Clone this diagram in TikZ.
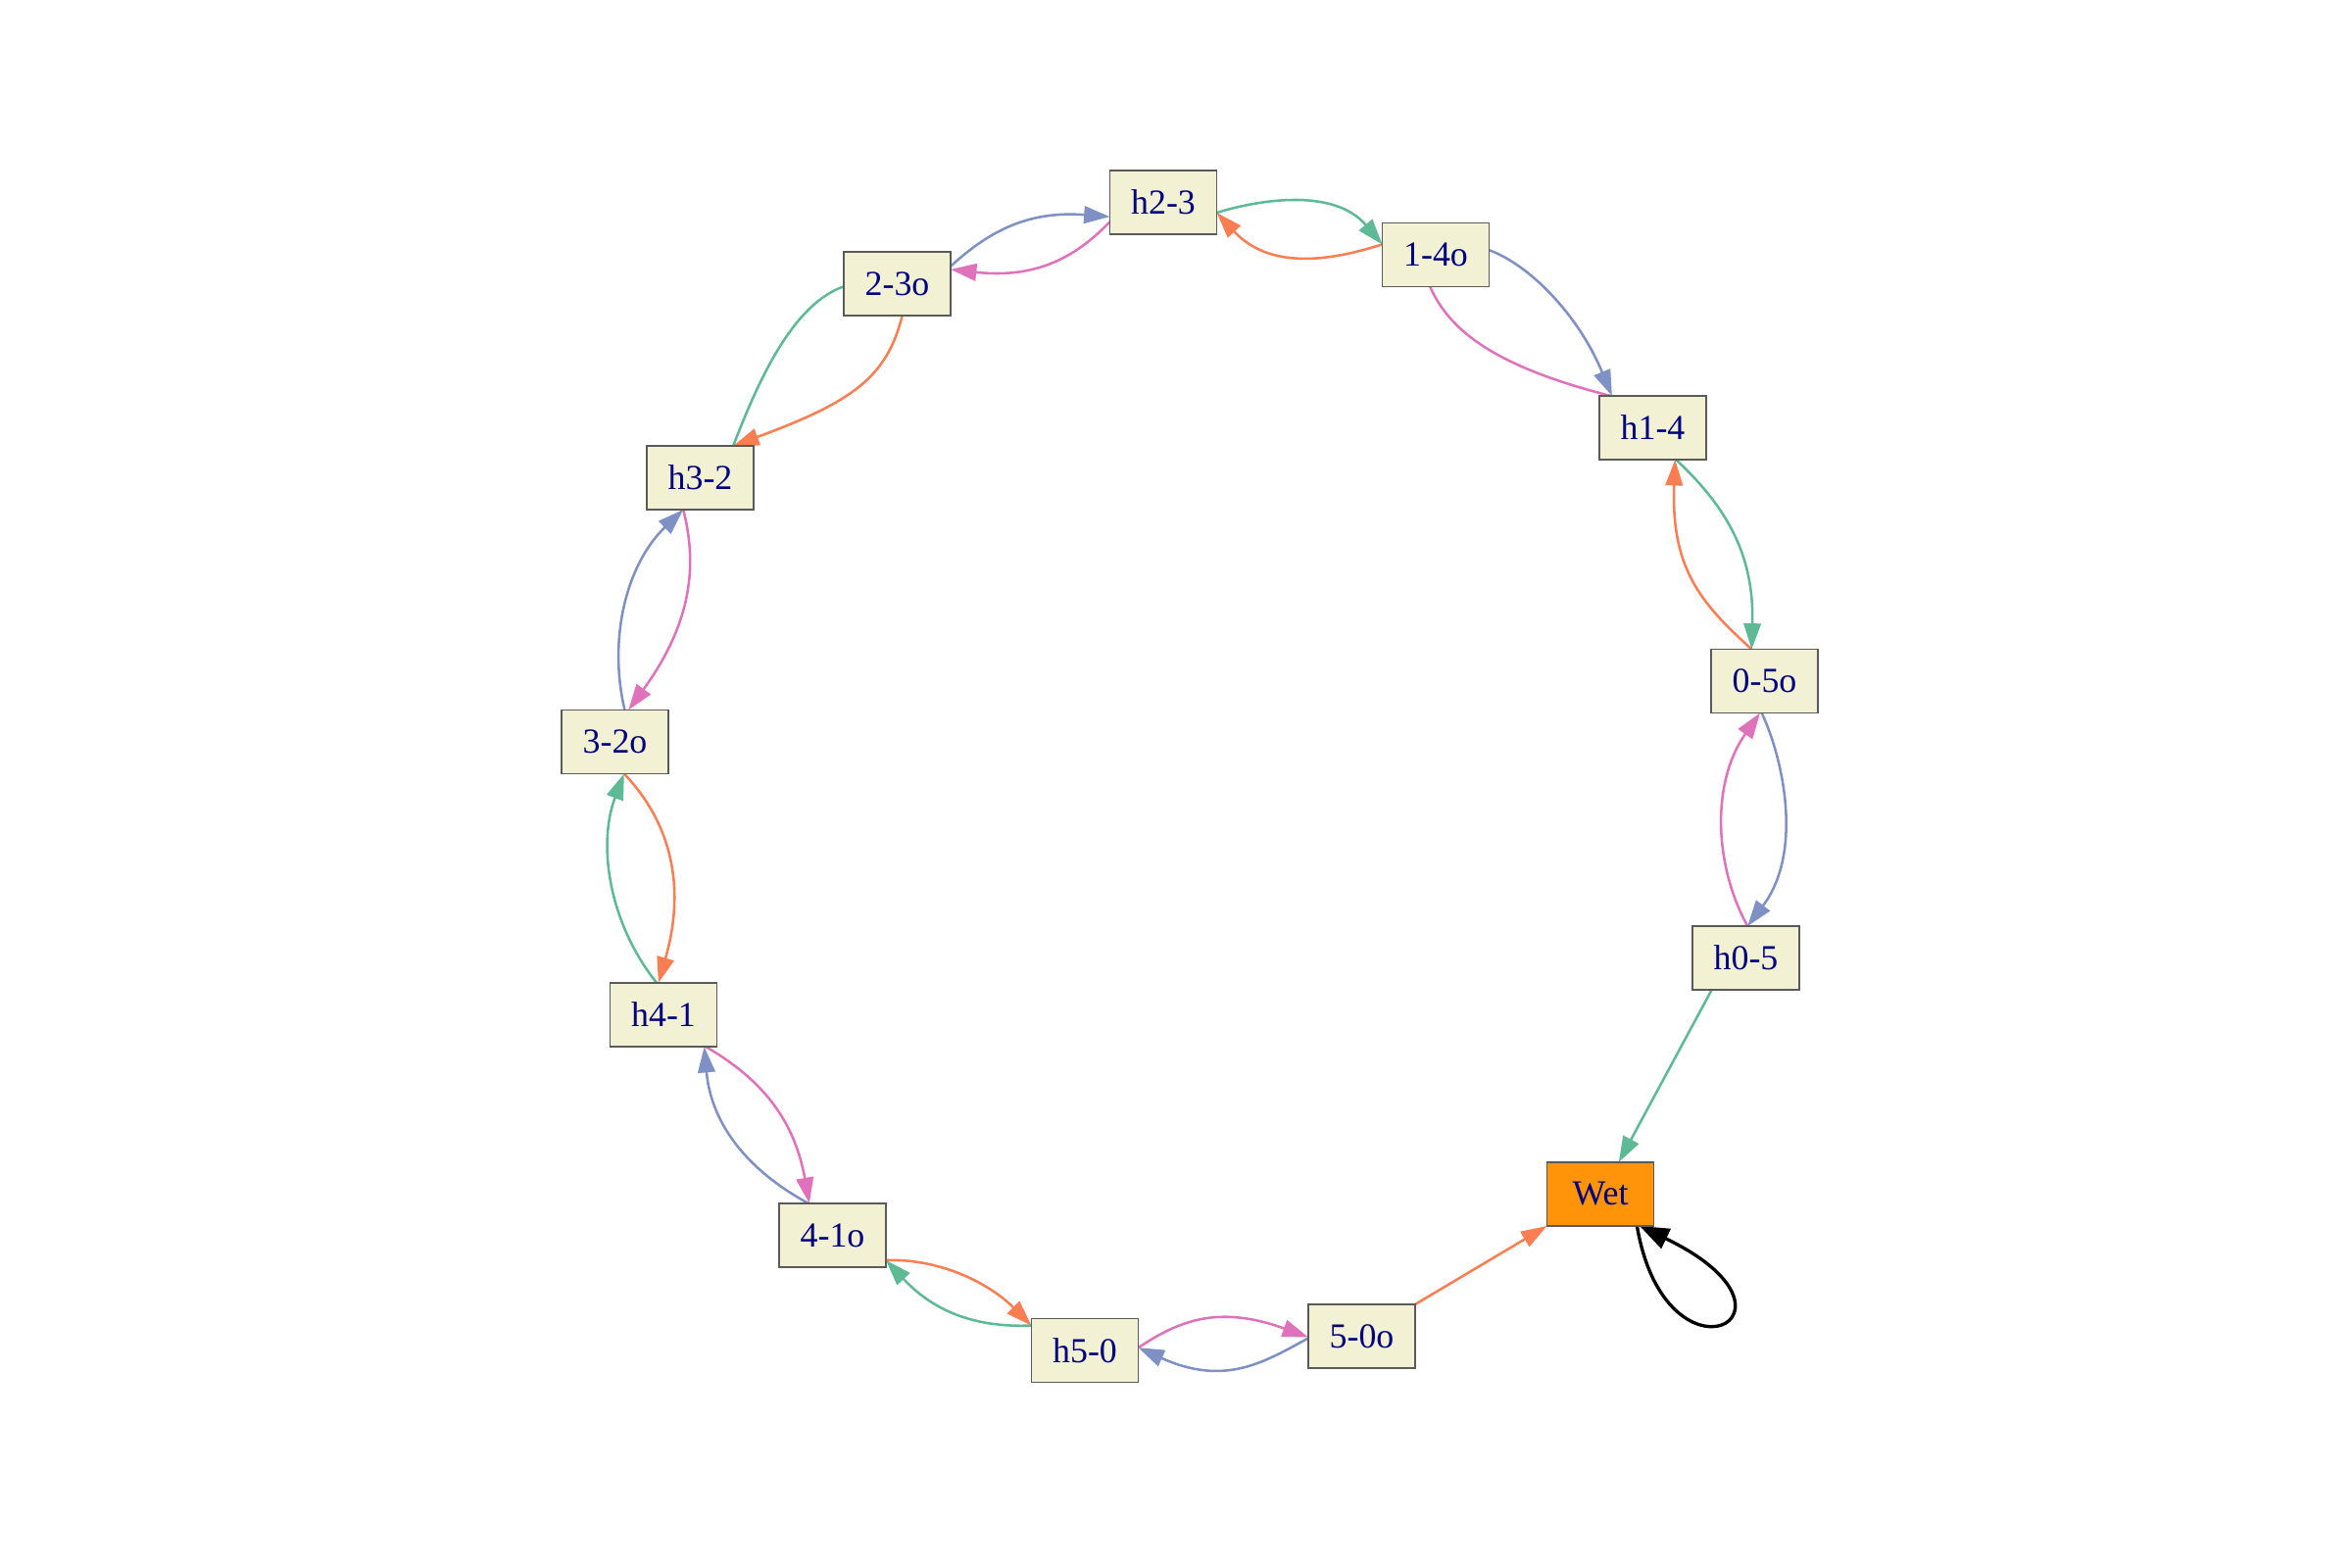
\documentclass[tikz,border=0pt]{standalone}
\usepackage{fontspec}
\setmainfont{Liberation Serif}
\usetikzlibrary{arrows.meta}
\pgfdeclarelayer{bg}
\pgfsetlayers{bg,main}
\definecolor{cgreen}{HTML}{5DBA95}
\definecolor{corange}{HTML}{FA7E52}
\definecolor{cblue}{HTML}{7E90C4}
\definecolor{cpink}{HTML}{E072BB}
\definecolor{beigefill}{HTML}{F2F1D4}
\definecolor{boxline}{HTML}{5A5A5A}
\definecolor{wetfill}{HTML}{FF9408}
\definecolor{navytext}{HTML}{000080}
\begin{document}
\begin{tikzpicture}[x=0.01cm,y=-0.01cm,
  box/.style={draw=boxline, line width=0.35pt, fill=beigefill, minimum width=1.09cm,
    minimum height=0.65cm, inner sep=0pt, outer sep=0pt, text=navytext,
    font=\fontsize{10.2}{12}\selectfont},
  wetbox/.style={box, fill=wetfill},
  eg/.style={line width=0.72pt, -{Triangle[length=7.5pt,width=5pt]}},
  selfloop/.style={line width=0.95pt, black, -{Triangle[length=8.5pt,width=6.2pt]}}]
\useasboundingbox (0,0) rectangle (2400,1600);

\node[box] (h23) at (1187,206.5) {h2-3};
\node[box] (n14o) at (1465,260) {1-4o};
\node[box] (h14) at (1686.5,436.5) {h1-4};
\node[box] (n05o) at (1800.5,695) {0-5o};
\node[box] (h05) at (1781.5,977.5) {h0-5};
\node[wetbox] (wet) at (1633,1218.5) {Wet};
\node[box] (n50o) at (1389.5,1363.5) {5-0o};
\node[box] (h50) at (1107,1378) {h5-0};
\node[box] (n41o) at (849.5,1260.5) {4-1o};
\node[box] (h41) at (677,1035.5) {h4-1};
\node[box] (n32o) at (627.5,757) {3-2o};
\node[box] (h32) at (714.5,487.5) {h3-2};
\node[box] (n23o) at (915.5,289.5) {2-3o};

\begin{pgfonlayer}{bg}
\draw[eg, cgreen] (h23.-11) .. controls (1280,205) and (1360,190) .. (n14o.169);
\draw[eg, corange] (n14o.169) .. controls (1370,262) and (1300,280) .. (h23.-11);
\draw[eg, cblue] (n23o.18) .. controls (1010,235) and (1050,215) .. (h23.195);
\draw[eg, cpink] (h23.200) .. controls (1100,260) and (1060,285) .. (n23o.15);
\draw[eg, cblue] (n14o.5) .. controls (1560,270) and (1610,320) .. (h14.142);
\draw[eg, cpink] (h14.143) .. controls (1530,375) and (1480,340) .. (n14o.260)
   .. controls (1449,271) and (1430,240) .. (n14o.141);
\draw[eg, corange] (n23o.-81) .. controls (905,385) and (870,410) .. (h32.44);
\draw[eg, cgreen] (h32.44) .. controls (775,385) and (810,310) .. (n23o.183)
   .. controls (902,278) and (935,262) .. (n23o.45);
\draw[eg, cblue] (n32o.73) .. controls (620,650) and (640,575) .. (h32.242);
\draw[eg, cpink] (h32.242) .. controls (710,570) and (710,630) .. (n32o.67);
\draw[eg, cgreen] (h41.102) .. controls (620,940) and (610,860) .. (n32o.-74);
\draw[eg, corange] (n32o.-74) .. controls (685,840) and (700,905) .. (h41.99);
\draw[eg, cblue] (n41o.127) .. controls (755,1190) and (725,1140) .. (h41.-38);
\draw[eg, cpink] (h41.-37) .. controls (775,1100) and (810,1140) .. (n41o.126);
\draw[eg, corange] (n41o.-25) .. controls (960,1284) and (1010,1310) .. (h50.155);
\draw[eg, cgreen] (h50.155) .. controls (990,1355) and (950,1335) .. (n41o.-25);
\draw[eg, cpink] (h50.3) .. controls (1200,1350) and (1240,1330) .. (n50o.181);
\draw[eg, cblue] (n50o.182) .. controls (1290,1390) and (1250,1415) .. (h50.3);
\draw[eg, corange] (n50o.north east) -- (wet.south west);
\draw[eg, cgreen] (h05.223) -- (wet.60);
\draw[selfloop] (wet.-41) .. controls (1700,1425) and (1862,1342) .. (wet.-39);
\draw[eg, corange] (n05o.112) .. controls (1735,615) and (1705,580) .. (h14.-55);
\draw[eg, cgreen] (h14.-54) .. controls (1765,520) and (1790,570) .. (n05o.112);
\draw[eg, cpink] (h05.87) .. controls (1750,885) and (1745,800) .. (n05o.262);
\draw[eg, cblue] (n05o.265) .. controls (1820,775) and (1840,870) .. (h05.87);
\end{pgfonlayer}
\end{tikzpicture}
\end{document}
